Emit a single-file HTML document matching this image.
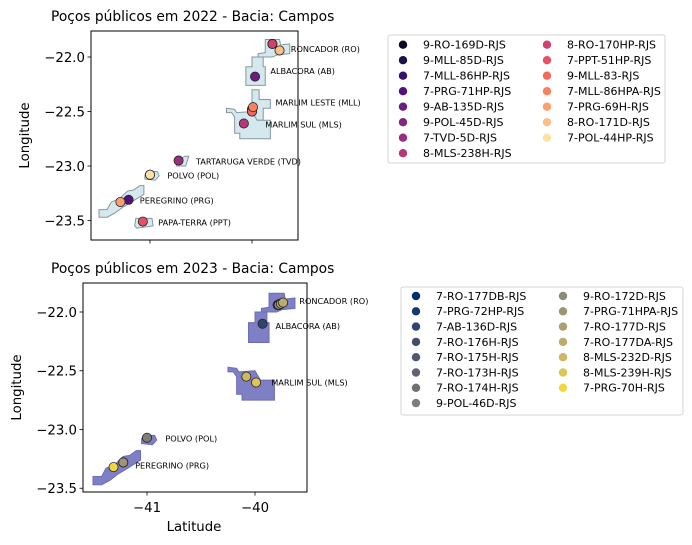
<!DOCTYPE html>
<html><head><meta charset="utf-8"><style>
html,body{margin:0;padding:0;background:#fff;}
svg{display:block;font-family:"DejaVu Sans","Liberation Sans",sans-serif;}
</style></head><body>
<svg id="fig" width="692" height="545" viewBox="0 0 692 545"></svg>
<script>
// ---------- data ----------
const fieldNames = ["RONCADOR (RO)","ALBACORA (AB)","MARLIM LESTE (MLL)","MARLIM SUL (MLS)","TARTARUGA VERDE (TVD)","POLVO (POL)","PEREGRINO (PRG)","PAPA-TERRA (PPT)"];
const fieldPolys = [
 [[-39.87,-21.84],[-39.73,-21.84],[-39.72,-21.89],[-39.63,-21.88],[-39.63,-21.97],[-39.75,-21.98],[-39.80,-22.0],[-39.94,-22.0],[-39.94,-21.97],[-39.87,-21.96]],
 [[-40.0,-22.0],[-39.89,-22.0],[-39.89,-22.09],[-39.87,-22.09],[-39.87,-22.26],[-40.06,-22.26],[-40.06,-22.09],[-40.0,-22.09]],
 [[-40.0,-22.30],[-39.93,-22.30],[-39.93,-22.39],[-39.82,-22.39],[-39.82,-22.47],[-39.89,-22.47],[-39.89,-22.58],[-40.0,-22.58]],
 [[-40.25,-22.47],[-40.17,-22.48],[-40.15,-22.51],[-40.0,-22.50],[-39.95,-22.58],[-39.82,-22.58],[-39.82,-22.75],[-40.12,-22.75],[-40.12,-22.70],[-40.17,-22.70],[-40.17,-22.55],[-40.2,-22.51],[-40.25,-22.51]],
 [[-40.66,-22.91],[-40.62,-22.91],[-40.65,-23.0],[-40.74,-23.0],[-40.72,-22.95]],
 [[-41.03,-23.05],[-40.93,-23.05],[-40.91,-23.09],[-40.95,-23.13],[-41.05,-23.12],[-41.05,-23.08]],
 [[-41.50,-23.40],[-41.42,-23.40],[-41.38,-23.33],[-41.30,-23.30],[-41.22,-23.23],[-41.16,-23.22],[-41.10,-23.18],[-41.06,-23.18],[-41.06,-23.26],[-41.18,-23.33],[-41.27,-23.38],[-41.34,-23.43],[-41.42,-23.47],[-41.50,-23.47]],
 [[-41.14,-23.48],[-40.98,-23.48],[-40.97,-23.55],[-41.13,-23.57],[-41.15,-23.55]]
];
const labels2022 = [[0,-39.62,-21.93],[1,-39.82,-22.13],[2,-39.77,-22.42],[3,-39.87,-22.62],[4,-40.55,-22.96],[5,-40.83,-23.09],[6,-41.10,-23.32],[7,-40.92,-23.52]];
const labels2023 = [[0,-39.59,-21.91],[1,-39.81,-22.12],[3,-39.85,-22.60],[5,-40.83,-23.08],[6,-41.11,-23.31]];
const fields2023 = [0,1,3,5,6];

const wells2022 = ["9-RO-169D-RJS","9-MLL-85D-RJS","7-MLL-86HP-RJS","7-PRG-71HP-RJS","9-AB-135D-RJS","9-POL-45D-RJS","7-TVD-5D-RJS","8-MLS-238H-RJS","8-RO-170HP-RJS","7-PPT-51HP-RJS","9-MLL-83-RJS","7-MLL-86HPA-RJS","7-PRG-69H-RJS","8-RO-171D-RJS","7-POL-44HP-RJS"];
const lon2022 = [-39.80,-40.0,-40.0,-41.21,-39.97,-41.0,-40.72,-40.08,-39.80,-41.07,-40.0,-39.99,-41.29,-39.73,-41.0];
const lat2022 = [-21.88,-22.50,-22.48,-23.31,-22.18,-23.08,-22.95,-22.61,-21.88,-23.51,-22.50,-22.46,-23.33,-21.94,-23.08];
const colors2022 = ["#0b0924","#1d1147","#36106b","#51127c","#6a1c81","#832681","#9c2e7f","#b73779","#d0416f","#e75263","#f4685c","#fa815f","#fe9f6d","#fdbf86","#fde2a3"];

const wells2023 = ["7-RO-177DB-RJS","7-PRG-72HP-RJS","7-AB-136D-RJS","7-RO-176H-RJS","7-RO-175H-RJS","7-RO-173H-RJS","7-RO-174H-RJS","9-POL-46D-RJS","9-RO-172D-RJS","7-PRG-71HPA-RJS","7-RO-177D-RJS","7-RO-177DA-RJS","8-MLS-232D-RJS","8-MLS-239H-RJS","7-PRG-70H-RJS"];
const lon2023 = [-39.79,-41.22,-39.93,-39.79,-39.78,-39.77,-39.76,-41.0,-39.78,-41.22,-39.76,-39.74,-40.08,-39.99,-41.31];
const lat2023 = [-21.94,-23.28,-22.10,-21.94,-21.94,-21.93,-21.93,-23.07,-21.94,-23.28,-21.93,-21.92,-22.55,-22.60,-23.32];
const colors2023 = ["#00306f","#15386e","#2f456d","#414e6d","#515870","#616370","#6f6f72","#7f7d77","#8e8a78","#9c9475","#ada070","#bdac6a","#cdb962","#dec656","#f1d73f"];

const yTicks = [-22.0,-22.5,-23.0,-23.5];
const yTickLabels = ["−22.0","−22.5","−23.0","−23.5"];
const xTicks = [-41,-40];
const xTickLabels = ["−41","−40"];

// ---------- drawing ----------
const NS="http://www.w3.org/2000/svg";
const svg=document.getElementById('fig');
function mk(tag,attrs,parent){const e=document.createElementNS(NS,tag);for(const k in attrs)e.setAttribute(k,attrs[k]);(parent||svg).appendChild(e);return e;}

function drawAxes(cfg){
  const g=mk('g',{});
  
  
  const sx=lon=>cfg.x0+(lon-cfg.lon0)*cfg.kx;
  const sy=lat=>cfg.y0+(cfg.lat0-lat)*cfg.ky;
  cfg.fields.forEach(fi=>{
    const p=mk('polygon',{points:fieldPolys[fi].map(q=>sx(q[0])+','+sy(q[1])).join(' '),fill:cfg.fill,stroke:cfg.stroke,'stroke-width':1},g);
    
    
  });
  cfg.labels.forEach(l=>{
    const t=mk('text',{x:sx(l[1]),y:sy(l[2])+2.8,'font-size':8.2,fill:'#000'},g);
    t.textContent=fieldNames[l[0]];
    
    
  });
  cfg.lons.forEach((lon,i)=>{
    const c=mk('circle',{cx:sx(lon),cy:sy(cfg.lats[i]),r:4.6,fill:cfg.colors[i],stroke:'#222','stroke-width':0.8},g);
    
    
  });
  const fr=mk('rect',{x:cfg.L,y:cfg.T,width:cfg.R-cfg.L,height:cfg.B-cfg.T,fill:'none',stroke:'#000','stroke-width':1},g);
  
  
  yTicks.forEach((v,i)=>{
    const y=sy(v);
    mk('line',{x1:cfg.L-3.5,x2:cfg.L,y1:y,y2:y,stroke:'#000','stroke-width':0.8},g);
    const t=mk('text',{x:cfg.L-6,y:y+4.8,'font-size':13.3,'text-anchor':'end'},g);
    t.textContent=yTickLabels[i];
    
    
  });
  xTicks.forEach((v,i)=>{
    const x=sx(v);
    mk('line',{x1:x,x2:x,y1:cfg.B,y2:cfg.B+3.5,stroke:'#000','stroke-width':0.8},g);
    if(cfg.xlabels){
      const t=mk('text',{x:x,y:cfg.B+20,'font-size':13.3,'text-anchor':'middle'},g);
      t.textContent=xTickLabels[i];
      
      
    }
  });
  const ti=mk('text',{x:cfg.tx,y:cfg.T-10,'font-size':13.8},g);
  ti.textContent=cfg.title;
  
  
  const yl=mk('text',{x:0,y:0,'font-size':13.3,'text-anchor':'middle',transform:'translate('+cfg.ylx+','+((cfg.T+cfg.B)/2)+') rotate(-90)'},g);
  yl.textContent='Longitude';
  
  
}

function drawLegend(cfg){
  const g=mk('g',{});
  
  
  mk('rect',{x:cfg.x,y:cfg.y,width:cfg.w,height:cfg.h,rx:2,fill:'#fff',stroke:'#d6d6d6','stroke-width':1},g);
  cfg.wells.forEach((w,i)=>{
    const col=i<8?0:1, row=i<8?i:i-8;
    const mx=col?cfg.mx2:cfg.mx1, cy=cfg.cy0+row*cfg.dy;
    const e=mk('g',{},g);
    
    
    mk('circle',{cx:mx,cy:cy,r:4.2,fill:cfg.colors[i]},e);
    const t=mk('text',{x:mx+20,y:cy+3.9,'font-size':11},e);
    t.textContent=w;
  });
}

drawAxes({name:'chart-2022',L:91,R:298,T:31,B:240,x0:150,lon0:-41,kx:102,y0:57,lat0:-22,ky:109,tx:51,ylx:29,
  fields:[0,1,2,3,4,5,6,7],labels:labels2022,fill:'#d4e8ed',stroke:'#8797a0',
  lons:lon2022,lats:lat2022,colors:colors2022,wells:wells2022,xlabels:false,title:'Poços públicos em 2022 - Bacia: Campos'});
drawAxes({name:'chart-2023',L:83,R:307,T:283,B:492,x0:147,lon0:-41,kx:108,y0:312,lat0:-22,ky:117.5,tx:51,ylx:21,
  fields:fields2023,labels:labels2023,fill:'#7f7fc6',stroke:'#6c6cb6',
  lons:lon2023,lats:lat2023,colors:colors2023,wells:wells2023,xlabels:true,title:'Poços públicos em 2023 - Bacia: Campos'});
const xl=mk('text',{x:194,y:531,'font-size':13.3,'text-anchor':'middle'});
xl.textContent='Latitude';



drawLegend({name:'legend-2022',x:388,y:35,w:277,h:128,mx1:403,mx2:547,cy0:44.7,dy:15.5,wells:wells2022,colors:colors2022});
drawLegend({name:'legend-2023',x:401,y:287,w:282,h:128,mx1:416,mx2:563,cy0:296,dy:15.3,wells:wells2023,colors:colors2023});
</script>
</body></html>
